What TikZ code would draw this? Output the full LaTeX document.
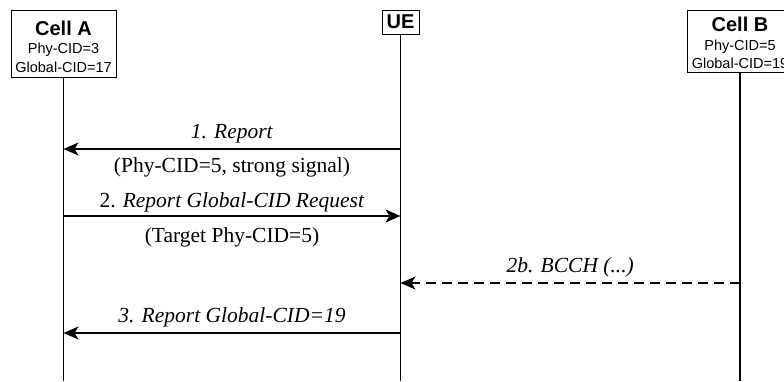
\documentclass[tikz,border=0pt]{standalone}
\usepackage{fontspec}
\setmainfont{Liberation Serif}
\setsansfont{Liberation Sans}
\usetikzlibrary{arrows.meta, positioning}
\tikzset{
    every node/.style={inner sep=2pt},
    entity/.style={draw, line width=1pt, font=\sffamily\fontsize{14.5}{18.5}\selectfont,
        align=center, inner sep=0pt},
    lifeline/.style={line width=1.4pt},
    msg/.style={line width=1.5pt, -{Stealth[length=15pt, width=13pt, inset=4pt]}},
    dmsg/.style={msg, dash pattern=on 10pt off 6pt},
    lbl/.style={font=\fontsize{21.5}{24}\selectfont, inner sep=3pt}
}
\newcommand{\bigname}{\fontsize{20}{24}\selectfont\bfseries}

\begin{document}
\begin{tikzpicture}[x=1pt, y=-1pt]
    \useasboundingbox (0,0) rectangle (784,381);
    \clip (0,0) rectangle (784,381);

    \node[entity, minimum width=105pt, minimum height=67pt] (cellA) at (63.5,43.5)
        {{\bigname\rule{0pt}{21pt}Cell A}\\Phy-CID=3\\Global-CID=17};
    \node[entity, minimum width=37pt, minimum height=24pt] (ue) at (400.5,22)
        {\bigname UE};
    \node[entity, minimum width=105pt, minimum height=62pt] (cellB) at (740,41)
        {{\bigname\rule{0pt}{19pt}Cell B}\\Phy-CID=5\\Global-CID=19};

    \coordinate (cellAend) at (cellA.south |- 0,381);
    \coordinate (ueend) at (ue.south |- 0,381);
    \coordinate (cellBend) at (cellB.south |- 0,381);
    \draw[lifeline] (cellA) -- (cellAend);
    \draw[lifeline] (ue) -- (ueend);
    \draw[lifeline] (cellB) -- (cellBend);

    % message points on the lifelines
    \coordinate (a1) at (cellA.south |- 0,149);
    \coordinate (u1) at (ue.south |- 0,149);
    \coordinate (a2) at (cellA.south |- 0,216);
    \coordinate (u2) at (ue.south |- 0,216);
    \coordinate (u3) at (ue.south |- 0,283);
    \coordinate (b3) at (cellB.south |- 0,283);
    \coordinate (a4) at (cellA.south |- 0,333);
    \coordinate (u4) at (ue.south |- 0,333);

    \draw[msg] (u1) -- node[lbl, midway, above=2pt] {\textit{1. Report}}
        node[lbl, midway, below=5pt] {(Phy-CID=5, strong signal)} (a1);
    \draw[msg] (a2) -- node[lbl, midway, above=0pt] {2. \textit{Report Global-CID Request}}
        node[lbl, midway, below=8pt] {(Target Phy-CID=5)} (u2);
    \draw[dmsg] (b3) -- node[lbl, midway, above=2pt] {\textit{2b. BCCH (...)}} (u3);
    \draw[msg] (u4) -- node[lbl, midway, above=2pt] {\textit{3. Report Global-CID=19}} (a4);
\end{tikzpicture}
\end{document}
